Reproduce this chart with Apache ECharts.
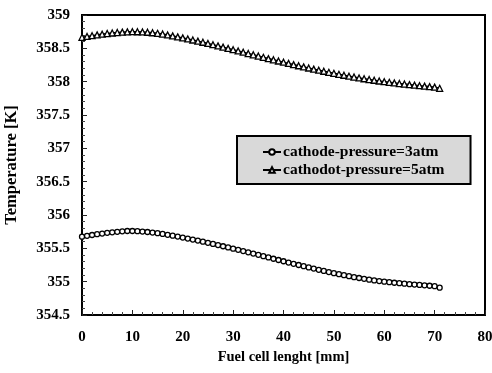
<!DOCTYPE html>
<html>
<head>
<meta charset="utf-8">
<script src="https://cdn.jsdelivr.net/npm/echarts@6/dist/echarts.min.js"></script>
<style>
  html, body { margin: 0; padding: 0; background: #fff; }
  #chart { width: 492px; height: 373px; }
</style>
</head>
<body>
<div id="chart"></div>
<script>
// Position along the cell [mm]
const positions = [
  0, 1, 2, 3, 4, 5, 6, 7, 8, 9, 10, 11, 12, 13, 14, 15, 16, 17, 18, 19,
  20, 21, 22, 23, 24, 25, 26, 27, 28, 29, 30, 31, 32, 33, 34, 35, 36, 37, 38, 39,
  40, 41, 42, 43, 44, 45, 46, 47, 48, 49, 50, 51, 52, 53, 54, 55, 56, 57, 58, 59,
  60, 61, 62, 63, 64, 65, 66, 67, 68, 69, 70, 71
];

// Temperature [K] at 3 atm cathode pressure
const temp3atm = [
  355.675, 355.688, 355.700, 355.712, 355.722, 355.732, 355.740, 355.748, 355.755, 355.760,
  355.760, 355.757, 355.752, 355.745, 355.737, 355.728, 355.716, 355.703, 355.690, 355.676,
  355.662, 355.647, 355.632, 355.616, 355.600, 355.583, 355.566, 355.549, 355.531, 355.513,
  355.495, 355.477, 355.459, 355.440, 355.421, 355.402, 355.383, 355.364, 355.344, 355.325,
  355.306, 355.287, 355.268, 355.250, 355.232, 355.214, 355.196, 355.178, 355.161, 355.144,
  355.128, 355.112, 355.097, 355.082, 355.068, 355.055, 355.042, 355.030, 355.019, 355.009,
  355.000, 354.992, 354.984, 354.977, 354.970, 354.963, 354.957, 354.951, 354.945, 354.939,
  354.932, 354.910
];

// Temperature [K] at 5 atm cathode pressure
const temp5atm = [
  358.665, 358.678, 358.690, 358.702, 358.712, 358.722, 358.730, 358.737, 358.743, 358.747,
  358.750, 358.749, 358.746, 358.741, 358.734, 358.725, 358.714, 358.701, 358.687, 358.672,
  358.657, 358.641, 358.625, 358.608, 358.591, 358.573, 358.555, 358.537, 358.518, 358.499,
  358.480, 358.461, 358.442, 358.422, 358.403, 358.384, 358.365, 358.346, 358.328, 358.310,
  358.292, 358.274, 358.256, 358.239, 358.222, 358.205, 358.188, 358.172, 358.156, 358.140,
  358.125, 358.110, 358.096, 358.082, 358.069, 358.056, 358.044, 358.032, 358.021, 358.010,
  358.000, 357.990, 357.981, 357.972, 357.964, 357.956, 357.948, 357.940, 357.933, 357.926,
  357.918, 357.900
];

const seriesNames = ['cathode-pressure=3atm', 'cathodot-pressure=5atm'];

const serif = '"Liberation Serif", "DejaVu Serif", serif';
const pair = (ys) => positions.map((x, i) => [x, ys[i]]);

const chart = echarts.init(document.getElementById('chart'), null, { renderer: 'canvas' });

const axisCommon = {
  axisLine: { show: true, onZero: false, lineStyle: { color: '#000', width: 2 } },
  axisTick: { show: true, inside: true, length: 5, lineStyle: { color: '#222', width: 1 } },
  minorTick: { show: true, splitNumber: 5, length: 3, lineStyle: { color: '#444', width: 1 } },
  splitLine: { show: false },
  axisLabel: { color: '#000', fontFamily: serif, fontWeight: 'bold', fontSize: 15 },
  nameTextStyle: { color: '#000', fontFamily: serif, fontWeight: 'bold', fontSize: 14.5 }
};

chart.setOption({
  animation: false,
  backgroundColor: '#fff',
  grid: {
    left: 82, right: 7, top: 15, bottom: 58,
    outerBoundsMode: 'none',
    containLabel: false,
    show: true, borderColor: '#000', borderWidth: 2, backgroundColor: 'transparent'
  },
  xAxis: Object.assign({}, axisCommon, {
    type: 'value',
    min: 0, max: 80, interval: 10,
    name: 'Fuel cell lenght [mm]',
    nameLocation: 'middle',
    nameGap: 33,
    axisLabel: Object.assign({}, axisCommon.axisLabel, { margin: 15 })
  }),
  yAxis: Object.assign({}, axisCommon, {
    type: 'value',
    min: 354.5, max: 359, interval: 0.5,
    name: 'Temperature [K]',
    nameLocation: 'middle',
    nameGap: 62,
    nameTextStyle: Object.assign({}, axisCommon.nameTextStyle, { fontSize: 16.5 }),
    axisLabel: Object.assign({}, axisCommon.axisLabel, { margin: 12 })
  }),
  legend: {
    left: 237, top: 136,
    orient: 'vertical',
    align: 'left',
    backgroundColor: '#d9d9d9',
    borderColor: '#000',
    borderWidth: 2,
    padding: [8, 26, 6, 25],
    itemWidth: 18, itemHeight: 7, itemGap: 2,
    textStyle: { color: '#000', fontFamily: serif, fontWeight: 'bold', fontSize: 15.5, padding: [0, 0, 0, -3] },
    data: seriesNames
  },
  series: [
    {
      name: seriesNames[0],
      type: 'line',
      data: pair(temp3atm),
      symbol: 'circle',
      symbolSize: 5,
      showAllSymbol: true,
      lineStyle: { color: '#000', width: 1.5 },
      itemStyle: { color: '#fff', borderColor: '#000', borderWidth: 1.3 }
    },
    {
      name: seriesNames[1],
      type: 'line',
      data: pair(temp5atm),
      symbol: 'triangle',
      symbolSize: 6,
      showAllSymbol: true,
      lineStyle: { color: '#000', width: 1.5 },
      itemStyle: { color: '#fff', borderColor: '#000', borderWidth: 1.3 }
    }
  ]
});
</script>
</body>
</html>
